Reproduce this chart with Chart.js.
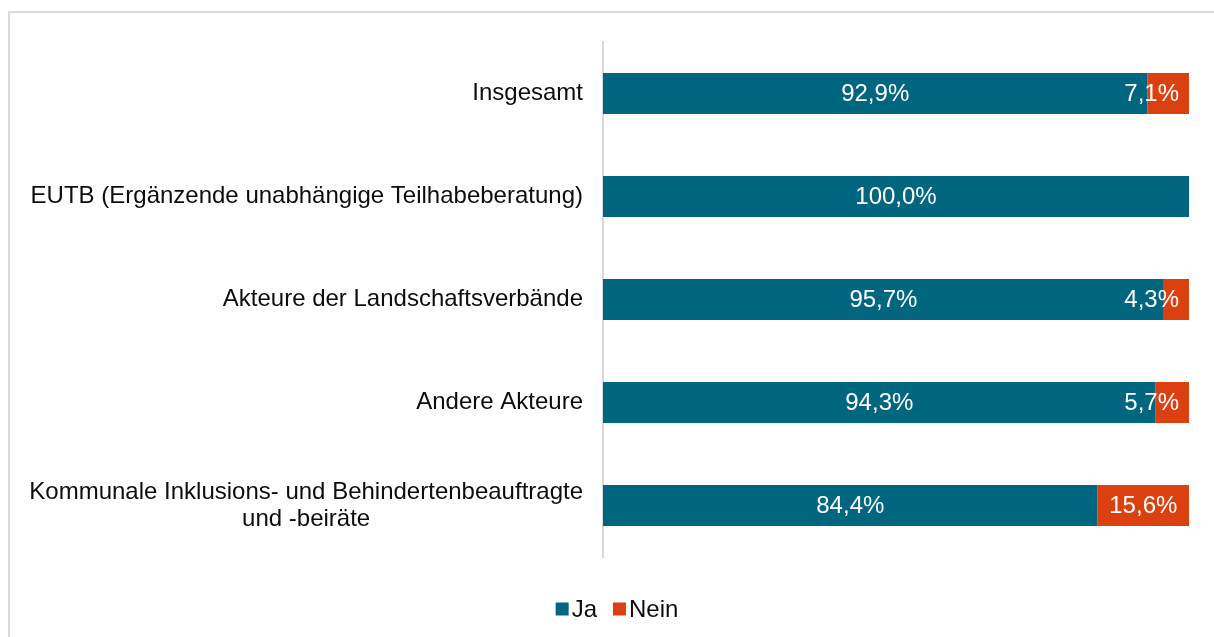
<!DOCTYPE html>
<html><head><meta charset="utf-8">
<script src="https://cdn.jsdelivr.net/npm/chart.js@4.4.1/dist/chart.umd.min.js"></script>
<style>
html,body{margin:0;padding:0;background:#fff;overflow:hidden}
#frame{position:absolute;left:8px;top:11px;width:1400px;height:800px;border:2px solid #d9d9d9;box-sizing:border-box}
#wrap{position:absolute;left:0;top:0;width:1214px;height:637px}
</style></head><body>
<div id="frame"></div>
<div id="wrap"><canvas id="c"></canvas></div>
<script>
const categories = [
  ["Insgesamt"],
  ["EUTB (Ergänzende unabhängige Teilhabeberatung)"],
  ["Akteure der Landschaftsverbände"],
  ["Andere Akteure"],
  ["Kommunale Inklusions- und Behindertenbeauftragte", "und -beiräte"]
];
const seriesNames = ["Ja", "Nein"];
const jaValues = [92.9, 100.0, 95.7, 94.3, 84.4];
const neinValues = [7.1, 0, 4.3, 5.7, 15.6];
const seriesColors = ["#006680", "#DA4010"];

const FONT = '"Liberation Sans", Arial, sans-serif';
const fmt = v => v.toFixed(1).replace('.', ',') + '%';

const catLabelPlugin = {
  id: 'catLabels',
  afterDraw(chart) {
    const ctx = chart.ctx, y = chart.scales.y, ca = chart.chartArea;
    ctx.save();
    ctx.font = '24px ' + FONT;
    ctx.fillStyle = '#0d0d0d';
    ctx.textAlign = 'center';
    ctx.textBaseline = 'middle';
    const lh = 27;
    categories.forEach((lines, i) => {
      const cy = y.getPixelForValue(i);
      const w = Math.max(...lines.map(l => ctx.measureText(l).width));
      const right = ca.left - 20;
      const cx = right - w / 2;
      const y0 = cy - (lines.length - 1) * lh / 2;
      lines.forEach((l, k) => ctx.fillText(l, cx, y0 + k * lh));
    });
    ctx.restore();
  }
};

const valueLabelPlugin = {
  id: 'valueLabels',
  afterDatasetsDraw(chart) {
    const ctx = chart.ctx, ca = chart.chartArea;
    ctx.save();
    ctx.font = '24px ' + FONT;
    ctx.fillStyle = '#ffffff';
    ctx.textAlign = 'center';
    ctx.textBaseline = 'middle';
    chart.data.datasets.forEach((ds, di) => {
      const meta = chart.getDatasetMeta(di);
      meta.data.forEach((bar, i) => {
        const v = ds.data[i];
        if (!v) return;
        const t = fmt(v);
        const w = ctx.measureText(t).width;
        let cx = (bar.base + bar.x) / 2;
        cx = Math.min(cx, ca.right - 10 - w / 2);
        ctx.fillText(t, cx, bar.y + 1);
      });
    });
    ctx.restore();
  }
};

const legendPlugin = {
  id: 'customLegend',
  afterDraw(chart) {
    const ctx = chart.ctx;
    ctx.save();
    ctx.font = '24px ' + FONT;
    ctx.textBaseline = 'middle';
    ctx.textAlign = 'left';
    const box = 13, gap = 3, itemGap = 16;
    const items = chart.data.datasets.map(d => ({ text: d.label, color: d.backgroundColor }));
    let total = 0;
    items.forEach((it, i) => { it.w = ctx.measureText(it.text).width; total += box + gap + it.w + (i ? itemGap : 0); });
    let x = chart.width / 2 + 10 - total / 2;
    const cy = 609;
    items.forEach((it, i) => {
      if (i) x += itemGap;
      ctx.fillStyle = it.color;
      ctx.fillRect(x, cy - box / 2, box, box);
      x += box + gap;
      ctx.fillStyle = '#0d0d0d';
      ctx.fillText(it.text, x, cy + 1);
      x += it.w;
    });
    ctx.restore();
  }
};

new Chart(document.getElementById('c'), {
  type: 'bar',
  data: {
    labels: categories,
    datasets: [
      { label: seriesNames[0], data: jaValues, backgroundColor: seriesColors[0], barPercentage: 0.4, categoryPercentage: 1 },
      { label: seriesNames[1], data: neinValues, backgroundColor: seriesColors[1], barPercentage: 0.4, categoryPercentage: 1 }
    ]
  },
  options: {
    indexAxis: 'y',
    responsive: true,
    maintainAspectRatio: false,
    animation: false,
    layout: { padding: { left: 602, right: 25, top: 42, bottom: 80 } },
    plugins: { legend: { display: false }, tooltip: { enabled: false } },
    scales: {
      x: { stacked: true, min: 0, max: 100, display: false },
      y: {
        stacked: true,
        ticks: { display: false },
        grid: { display: false, drawTicks: false },
        border: { display: true, color: '#d9d9d9', width: 2 },
        afterFit(s) { s.width = 1; }
      }
    }
  },
  plugins: [catLabelPlugin, valueLabelPlugin, legendPlugin]
});
</script>
</body></html>
